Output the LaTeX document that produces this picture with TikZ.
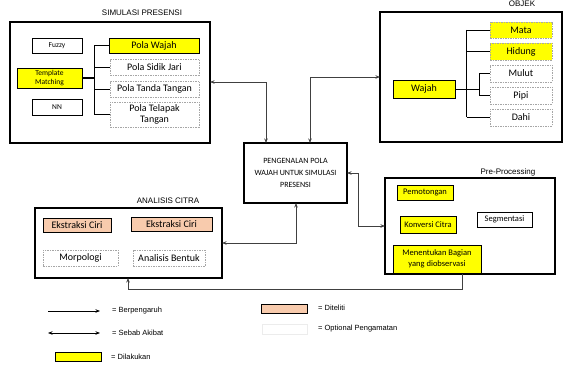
\documentclass[tikz,border=0pt]{standalone}
\usepackage{fontspec}
\setmainfont{Carlito}
\newfontfamily\arialfont{Liberation Sans}
\usetikzlibrary{arrows.meta}
\definecolor{kuning}{HTML}{FFFF00}
\definecolor{peach}{HTML}{F8CBAD}
\definecolor{garis}{HTML}{404040}

\begin{document}
\begin{tikzpicture}[x=1pt,y=-1pt,>={Stealth[length=4.5pt,width=3.5pt]},
  outerbox/.style={draw,line width=1.1pt,inner sep=0pt,outer sep=0pt},
  itembox/.style={draw,line width=0.7pt,inner sep=0pt,outer sep=0pt,align=center,font=\fontsize{10}{11}\selectfont},
  yellowbox/.style={itembox,fill=kuning},
  peachbox/.style={itembox,fill=peach},
  optbox/.style={itembox,draw=gray!70,line width=0.5pt,dash pattern=on 1.5pt off 1pt},
  smalltxt/.style={font=\fontsize{7.5}{8.5}\selectfont},
  pretxt/.style={font=\fontsize{8.5}{11}\selectfont},
  conn/.style={draw=garis,line width=0.8pt},
  ttl/.style={font=\arialfont\fontsize{8}{9}\selectfont,inner sep=0pt},
  legtxt/.style={font=\arialfont\fontsize{7.5}{9}\selectfont,anchor=west,inner sep=0pt}]
  \useasboundingbox (0,0) rectangle (563,369);

  % Simulasi presensi
  \node[outerbox,minimum width=200pt,minimum height=121pt] (sim) at (110,82.5) {};
  \node[ttl] (simttl) at (142,13) {SIMULASI PRESENSI};
  \node[itembox,smalltxt,minimum width=50pt,minimum height=15pt] (fuzzy) at (57,45.5) {Fuzzy};
  \node[yellowbox,smalltxt,minimum width=65pt,minimum height=20pt] (tm) at (49.5,78) {Template\\Matching};
  \node[itembox,smalltxt,minimum width=50pt,minimum height=16pt] (nn) at (57,107) {NN};
  \node[yellowbox,minimum width=90pt,minimum height=15pt] (pwajah) at (154,45.5) {Pola Wajah};
  \node[optbox,minimum width=89pt,minimum height=16pt] (psidik) at (154.5,67) {Pola Sidik Jari};
  \node[optbox,minimum width=89pt,minimum height=16pt] (ptanda) at (154.5,89) {Pola Tanda Tangan};
  \node[optbox,minimum width=89pt,minimum height=25pt] (ptelapak) at (154.5,114.5) {Pola Telapak\\Tangan};
  \coordinate (simj) at (94,78);
  \draw[line width=1.4pt] (tm.east) -- (simj);
  \draw[line width=0.8pt] (simj |- pwajah) -- (simj |- ptelapak);
  \foreach \n in {pwajah,psidik,ptanda,ptelapak}
    \draw[line width=0.8pt] (simj |- \n) -- (\n.west);

  % Objek
  \node[outerbox,minimum width=182pt,minimum height=130pt] (objek) at (471,77) {};
  \node[ttl] (objttl) at (522,4) {OBJEK};
  \node[yellowbox,minimum width=62pt,minimum height=18pt] (wajah) at (424,89) {Wajah};
  \node[yellowbox,draw=gray!70,dash pattern=on 1.5pt off 1pt,minimum width=62pt,minimum height=16pt] (mata) at (521,30) {Mata};
  \node[yellowbox,draw=gray!70,dash pattern=on 1.5pt off 1pt,minimum width=62pt,minimum height=17pt] (hidung) at (521,51.5) {Hidung};
  \node[optbox,minimum width=62pt,minimum height=17pt] (mulut) at (521,73.5) {Mulut};
  \node[optbox,minimum width=62pt,minimum height=17pt] (pipi) at (521,95.5) {Pipi};
  \node[optbox,minimum width=62pt,minimum height=17pt] (dahi) at (521,117.5) {Dahi};
  \coordinate (objj) at (466.5,89);
  \coordinate (objk) at (479,89);
  \draw[line width=0.8pt] (wajah.east) -- (objk);
  \draw[line width=0.8pt] (objj |- mata) -- (objj |- dahi);
  \draw[line width=0.8pt] (objk |- mulut) -- (objk |- pipi);
  \foreach \n in {mata,hidung,dahi}
    \draw[line width=0.8pt] (objj |- \n) -- (\n.west);
  \foreach \n in {mulut,pipi}
    \draw[line width=0.8pt] (objk |- \n) -- (\n.west);

  % Pengenalan pola
  \node[outerbox,align=center,minimum width=103pt,minimum height=60pt,font=\fontsize{8}{12}\selectfont] (pola) at (295.5,173)
    {PENGENALAN POLA\\WAJAH UNTUK SIMULASI\\PRESENSI};

  % Pre-processing
  \node[outerbox,minimum width=170pt,minimum height=96pt] (pre) at (470,226) {};
  \node[ttl] (prettl) at (508,172) {Pre-Processing};
  \node[yellowbox,pretxt,minimum width=56pt,minimum height=15pt] (potong) at (425,192.5) {Pemotongan};
  \node[yellowbox,pretxt,minimum width=56pt,minimum height=17pt] (konversi) at (428,224.5) {Konversi Citra};
  \node[itembox,pretxt,minimum width=55pt,minimum height=15pt] (segmen) at (504.5,219.5) {Segmentasi};
  \node[yellowbox,pretxt,minimum width=88pt,minimum height=28pt] (bagian) at (437,259) {Menentukan Bagian\\yang diobservasi};

  % Analisis citra
  \node[outerbox,minimum width=187pt,minimum height=70pt] (analisis) at (128.5,243) {};
  \node[ttl] (anattl) at (168,201) {ANALISIS CITRA};
  \node[peachbox,minimum width=68pt,minimum height=14pt] (ciri) at (77,225) {Ekstraksi Ciri};
  \node[peachbox,minimum width=81pt,minimum height=14pt] (ciridua) at (171.5,224) {Ekstraksi Ciri};
  \node[optbox,minimum width=75pt,minimum height=16pt] (morpo) at (80.5,258) {Morpologi};
  \node[optbox,minimum width=72pt,minimum height=16pt] (bentuk) at (169,258) {Analisis Bentuk};

  % Connectors
  \coordinate (ka) at (266,82);
  \coordinate (kb) at (310,77);
  \coordinate (kc) at (358,173);
  \coordinate (kd) at (296,243);
  \coordinate (ke) at (462,289);
  \coordinate (kf) at (128,289);
  \draw[conn,<->] (ka -| sim.east) -- (ka) -- (ka |- pola.north);
  \draw[conn,<->] (kb -| objek.west) -- (kb) -- (kb |- pola.north);
  \draw[conn,<->] (pola.east) -- (kc) -- (kc |- pre.west) -- (pre.west);
  \draw[conn,<->] (kd |- pola.south) -- (kd) -- (analisis.east);
  \draw[conn,->] (ke |- pre.south) -- (ke) -- (kf) -- (kf |- analisis.south);

  % Legend
  \coordinate (la) at (48,311);
  \coordinate (lb) at (100,311);
  \coordinate (lc) at (48,333);
  \coordinate (ld) at (100,333);
  \draw[line width=0.7pt,->] (la) -- (lb);
  \draw[line width=0.7pt,<->] (lc) -- (ld);
  \node[legtxt] (lt1) at (112,311) {= Berpengaruh};
  \node[legtxt] (lt2) at (112,333) {= Sebab Akibat};
  \node[yellowbox,minimum width=46pt,minimum height=9pt] (lkuning) at (78,357) {};
  \node[legtxt] (lt3) at (111,357) {= Dilakukan};
  \node[peachbox,minimum width=46pt,minimum height=9pt] (lpeach) at (284,308.5) {};
  \node[legtxt] (lt4) at (318,308) {= Diteliti};
  \node[itembox,draw=gray!15,line width=0.5pt,minimum width=45pt,minimum height=10pt] (lopt) at (284.5,329) {};
  \node[legtxt] (lt5) at (318,329) {= Optional Pengamatan};
\end{tikzpicture}
\end{document}
